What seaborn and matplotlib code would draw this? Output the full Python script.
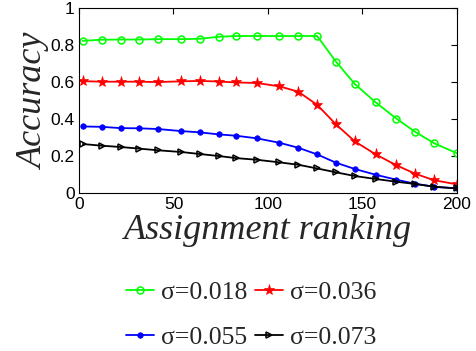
import numpy as np
import pandas as pd
import matplotlib
matplotlib.use("Agg")
import matplotlib.pyplot as plt
import seaborn as sns

# data
ranking = [2, 12, 22, 32, 42, 54, 64, 74, 83, 94,
           106, 116, 126, 136, 146, 157, 168, 178, 188, 200]
acc_018 = [0.823, 0.829, 0.830, 0.830, 0.832, 0.832, 0.834, 0.845, 0.849, 0.849,
           0.849, 0.849, 0.849, 0.710, 0.589, 0.490, 0.402, 0.330, 0.269, 0.215]
acc_036 = [0.605, 0.602, 0.602, 0.602, 0.600, 0.604, 0.606, 0.603, 0.598, 0.595,
           0.577, 0.548, 0.477, 0.371, 0.279, 0.209, 0.150, 0.104, 0.069, 0.047]
acc_055 = [0.360, 0.358, 0.351, 0.350, 0.346, 0.335, 0.328, 0.317, 0.310, 0.296,
           0.272, 0.245, 0.209, 0.164, 0.130, 0.099, 0.072, 0.050, 0.034, 0.025]
acc_073 = [0.265, 0.256, 0.249, 0.240, 0.231, 0.222, 0.211, 0.200, 0.189, 0.180,
           0.166, 0.153, 0.133, 0.112, 0.092, 0.076, 0.061, 0.049, 0.034, 0.025]
labels = ["σ=0.018", "σ=0.036", "σ=0.055", "σ=0.073"]
x_ticks = [0, 50, 100, 150, 200]
y_ticks = [0, 0.2, 0.4, 0.6, 0.8, 1]
y_ticklabels = ["0", "0.2", "0.4", "0.6", "0.8", "1"]

sns.set_theme(style="white")
plt.rcParams["font.family"] = ["Liberation Sans", "DejaVu Sans"]

fig = plt.figure(figsize=(4.77, 3.51), dpi=100)
ax = fig.add_axes([0.1656, 0.450, 0.7924, 0.527])

# 시리즈별 스타일 (marker, size, filled)
colors = ["#00ff00", "#ff0000", "#0000ff", "#000000"]
markers = ["o", "*", ".", ">"]
msizes = [5, 8, 8, 5]
filled = [False, True, True, False]
series = [acc_018, acc_036, acc_055, acc_073]

for ys, lab, c in zip(series, labels, colors):
    sns.lineplot(x=ranking, y=ys, ax=ax, label=lab, color=c, linewidth=1.3)

# 마커는 그린 뒤에 선 객체에 직접 지정
for line, m, ms, f, c in zip(ax.lines, markers, msizes, filled, colors):
    line.set_linestyle("-")
    line.set_marker(m)
    line.set_markersize(ms)
    line.set_markeredgecolor(c)
    line.set_markerfacecolor(c if f else "none")
    line.set_markeredgewidth(0.5 if f else 1.1)

ax.set_xlim(0, 200)
ax.set_ylim(0, 1)
ax.set_xticks(x_ticks)
ax.set_yticks(y_ticks)
ax.set_yticklabels(y_ticklabels)
ax.tick_params(direction="in", top=True, right=True, length=4, width=0.8,
               labelsize=12.5, color="black", labelcolor="black", pad=3)
for sp in ax.spines.values():
    sp.set_color("black")
    sp.set_linewidth(0.8)

ax.set_xlabel("Assignment ranking", fontsize=26, fontstyle="italic",
              family=["Liberation Serif", "DejaVu Serif"], labelpad=1)
ax.set_ylabel("Accuracy", fontsize=26, fontstyle="italic",
              family=["Liberation Serif", "DejaVu Serif"], labelpad=0)

ax.get_legend().remove()
order = [0, 2, 1, 3]
handles = [ax.lines[i] for i in order]
labs = [labels[i] for i in order]
fig.legend(handles, labs, loc="center", bbox_to_anchor=(251 / 477, 1 - 315 / 351),
           ncol=2, frameon=False, handlelength=1.1, handletextpad=0.25,
           columnspacing=0.3, labelspacing=0.85,
           prop={"family": ["Liberation Serif", "DejaVu Serif"], "size": 18.5})

fig.savefig("out.png", dpi=100)
